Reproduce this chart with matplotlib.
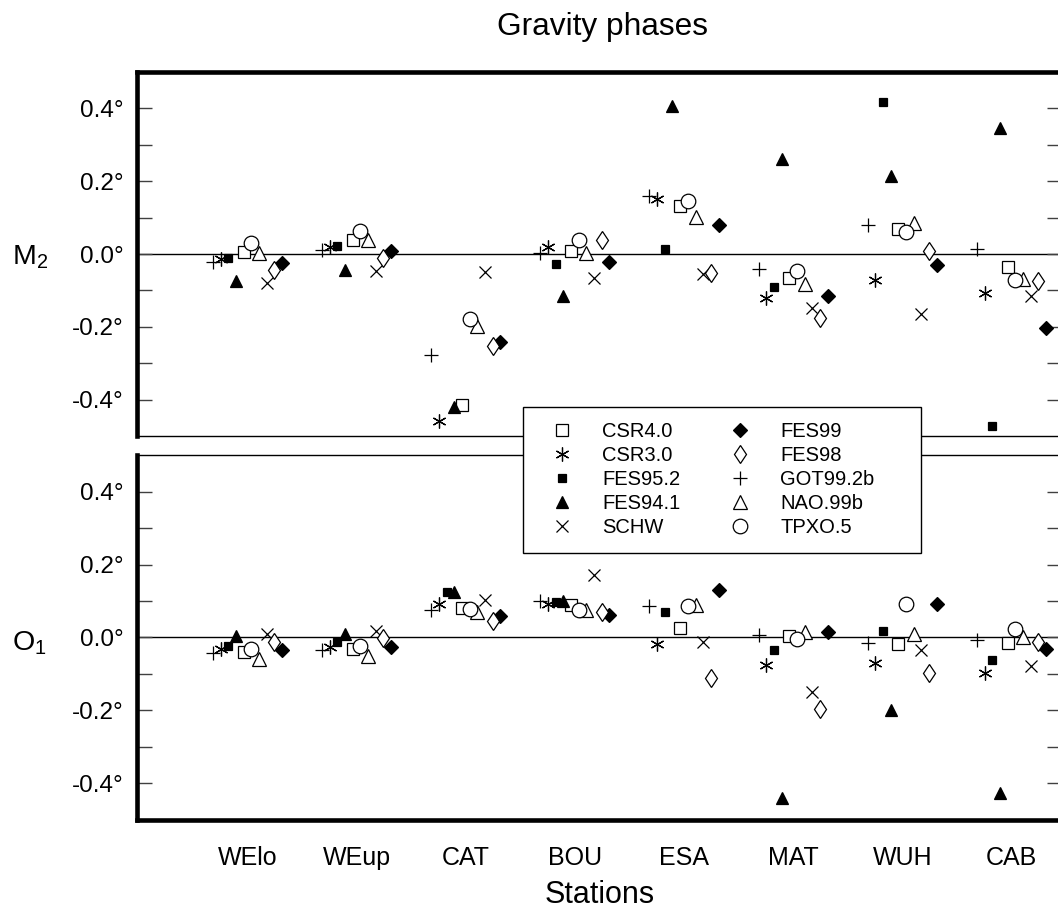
import matplotlib
matplotlib.use("Agg")
import matplotlib.pyplot as plt
from matplotlib.patches import Rectangle
from matplotlib.ticker import FixedLocator, FuncFormatter
import numpy as np

plt.rcParams['font.family'] = ['Liberation Sans', 'DejaVu Sans']

nan = np.nan
stations = ['WElo', 'WEup', 'CAT', 'BOU', 'ESA', 'MAT', 'WUH', 'CAB']

# M2 phase residuals (degrees), one list per ocean model
m2_csr40 = [0.005, 0.038, -0.414, 0.007, 0.131, -0.066, 0.068, -0.035]
m2_csr30 = [-0.014, 0.020, -0.460, 0.020, 0.151, -0.122, -0.071, -0.107]
m2_fes952 = [-0.012, 0.021, nan, -0.028, 0.015, -0.090, 0.417, -0.472]
m2_fes941 = [-0.075, -0.043, -0.421, -0.116, 0.406, 0.261, 0.215, 0.345]
m2_schw = [-0.081, -0.048, -0.050, -0.067, -0.055, -0.147, -0.165, -0.115]
m2_fes99 = [-0.025, 0.009, -0.243, -0.021, 0.079, -0.116, -0.029, -0.204]
m2_fes98 = [-0.044, -0.011, -0.252, 0.039, -0.052, -0.176, 0.007, -0.073]
m2_got = [-0.021, 0.011, -0.277, 0.002, 0.160, -0.041, 0.080, 0.015]
m2_nao = [0.004, 0.038, -0.197, 0.002, 0.101, -0.082, 0.084, -0.069]
m2_tpxo = [0.029, 0.062, -0.179, 0.039, 0.146, -0.048, 0.061, -0.071]

# O1 phase residuals (degrees)
o1_csr40 = [-0.040, -0.032, 0.081, 0.090, 0.026, 0.003, -0.018, -0.015]
o1_csr30 = [-0.032, -0.025, 0.093, 0.093, -0.017, -0.075, -0.069, -0.098]
o1_fes952 = [-0.023, -0.011, 0.126, 0.097, 0.071, -0.034, 0.017, -0.061]
o1_fes941 = [0.003, 0.010, 0.124, 0.101, nan, -0.439, -0.200, -0.426]
o1_schw = [0.010, 0.018, 0.104, 0.170, -0.011, -0.148, -0.034, -0.078]
o1_fes99 = [-0.034, -0.026, 0.058, 0.062, 0.131, 0.014, 0.092, -0.031]
o1_fes98 = [-0.011, -0.002, 0.044, 0.071, -0.110, -0.197, -0.098, -0.011]
o1_got = [-0.043, -0.034, 0.076, 0.099, 0.085, 0.006, -0.015, -0.008]
o1_nao = [-0.059, -0.052, 0.069, 0.076, 0.088, 0.014, 0.009, 0.001]
o1_tpxo = [-0.031, -0.022, 0.079, 0.076, 0.087, -0.004, 0.093, 0.024]

models = ['CSR4.0', 'CSR3.0', 'FES95.2', 'FES94.1', 'SCHW',
          'FES99', 'FES98', 'GOT99.2b', 'NAO.99b', 'TPXO.5']
m2 = [m2_csr40, m2_csr30, m2_fes952, m2_fes941, m2_schw,
      m2_fes99, m2_fes98, m2_got, m2_nao, m2_tpxo]
o1 = [o1_csr40, o1_csr30, o1_fes952, o1_fes941, o1_schw,
      o1_fes99, o1_fes98, o1_got, o1_nao, o1_tpxo]

# left-to-right slot of each model inside a station group
slots = [4, 1, 2, 3, 7, 9, 8, 0, 6, 5]
step = 0.0703

styles = [
    dict(marker='s', ms=8.5, mfc='white'),
    dict(marker=(6, 2, 0), ms=10),
    dict(marker='s', ms=5.5, mfc='k'),
    dict(marker='^', ms=9, mfc='k'),
    dict(marker='x', ms=8.5),
    dict(marker='D', ms=7, mfc='k'),
    dict(marker='d', ms=9.5, mfc='white'),
    dict(marker='+', ms=10.5),
    dict(marker='^', ms=10, mfc='white'),
    dict(marker='o', ms=10.5, mfc='white'),
]

fig = plt.figure(figsize=(10.58, 9.15), dpi=100)
ax1 = fig.add_axes([0.12996, 0.5235, 0.8738, 0.3978])
ax2 = fig.add_axes([0.12996, 0.10383, 0.8738, 0.3989])

xpos = np.arange(1, len(stations) + 1)
handles = []
for ax, data in ((ax1, m2), (ax2, o1)):
    ax.axhline(0, color='k', lw=1, zorder=1)
    for name, vals, s, st in zip(models, data, slots, styles):
        h, = ax.plot(xpos + (s - 4.5) * step, vals, ls='none', mec='k', mew=0.9,
                     color='k', label=name, zorder=3, **st)
        if ax is ax1:
            handles.append(h)
    ax.set_xlim(-0.007, 8.463)
    ax.set_ylim(-0.5, 0.5)
    ax.yaxis.set_major_locator(FixedLocator([-0.4, -0.2, 0.0, 0.2, 0.4]))
    ax.yaxis.set_minor_locator(FixedLocator([-0.3, -0.1, 0.1, 0.3]))
    ax.yaxis.set_major_formatter(FuncFormatter(lambda v, p: '%.1f\u00b0' % v))
    ax.tick_params(axis='y', which='both', direction='in', left=True, right=True,
                   length=10.8, width=1, color='0.25', labelsize=17.5, pad=10)
    ax.spines['right'].set_visible(False)
    ax.spines['left'].set_linewidth(3.3)

ax1.spines['top'].set_linewidth(3.3)
ax1.spines['bottom'].set_linewidth(1)
ax1.tick_params(axis='x', which='both', bottom=False, labelbottom=False)
ax2.spines['top'].set_linewidth(1)
ax2.spines['bottom'].set_linewidth(3.3)
ax2.set_xticks(xpos, stations)
ax2.tick_params(axis='x', length=0, pad=19, labelsize=18)
ax2.set_xlabel('Stations', fontsize=22, labelpad=7)

ax1.set_title('Gravity phases', fontsize=22.8, pad=26.6, x=0.503)

fig.text(0.0113, 0.7115, r'M$_\mathregular{2}$', fontsize=20.5, va='baseline')
fig.text(0.0113, 0.2896, r'O$_\mathregular{1}$', fontsize=20.5, va='baseline')

fig.add_artist(Rectangle((0.494, 0.3956), 0.3762, 0.1599, transform=fig.transFigure,
                         facecolor='white', edgecolor='k', lw=1, zorder=4))
fig.legend(handles=handles, ncol=2, loc='center left', bbox_to_anchor=(0.512, 0.476),
           frameon=False, fontsize=14.5, borderpad=0, borderaxespad=0,
           handlelength=2, handletextpad=1.0, columnspacing=1.95, labelspacing=0.25)

fig.savefig('out.png', dpi=100)
